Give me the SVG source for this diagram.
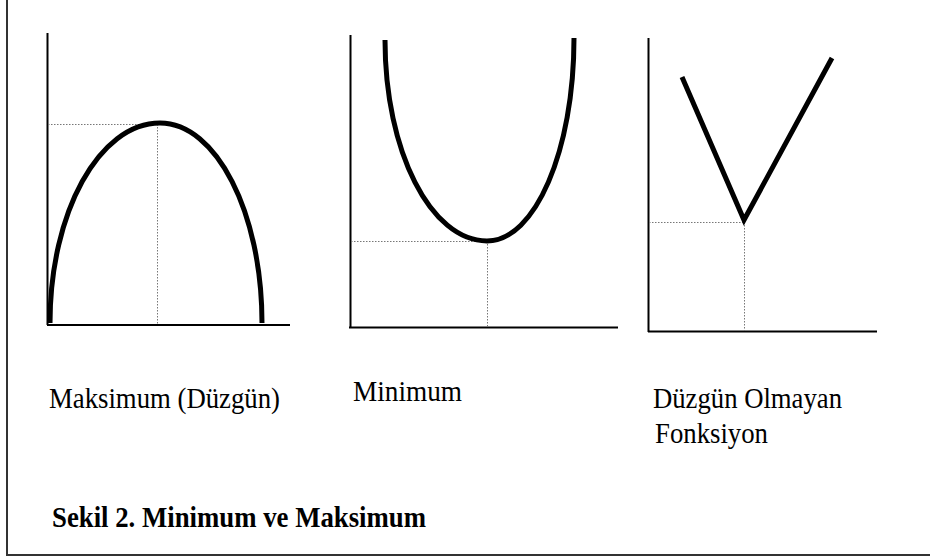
<svg xmlns="http://www.w3.org/2000/svg" width="930" height="558" viewBox="0 0 930 558">
<style>
.frame{fill:none;stroke:#333;stroke-width:2}
.axis{fill:none;stroke:#000;stroke-width:2}
.curve{fill:none;stroke:#000;stroke-width:5;stroke-linejoin:miter}
.dot{fill:none;stroke:#777;stroke-width:1;stroke-dasharray:1.5 1.5}
</style>
<rect width="930" height="558" fill="#fff"/>
<path class="frame" d="M7,0 V555 H930"/>
<g id="graph-max">
<path class="axis" d="M47.5,33 V325 M47,325 H290"/>
<path class="dot" d="M48,124.5 H160 M157.5,124 V325"/>
<path class="curve" d="M50,323 C50,212.5 99.2,123 160,123 C216.3,123 262,212.5 262,323"/>
<text x="49" y="408" font-family="Liberation Serif, Times New Roman, serif" font-size="30" textLength="231" lengthAdjust="spacingAndGlyphs">Maksimum (Düzgün)</text>
</g>
<g id="graph-min">
<path class="axis" d="M350.5,35 V328 M349,327.5 H618"/>
<path class="dot" d="M351,241.5 H487 M487.5,241 V327"/>
<path class="curve" d="M385,40 C385,151 430.7,241 487,241 C535,241 574,151 574,38"/>
<text x="353" y="401" font-family="Liberation Serif, Times New Roman, serif" font-size="30" textLength="109" lengthAdjust="spacingAndGlyphs">Minimum</text>
</g>
<g id="graph-nonsmooth">
<path class="axis" d="M648.5,38 V332 M648,331.5 H877"/>
<path class="dot" d="M649,222.5 H744 M744.5,222 V331"/>
<path class="curve" d="M682,77 L744,220 L832,58"/>
<text x="653" y="408" font-family="Liberation Serif, Times New Roman, serif" font-size="30" textLength="189" lengthAdjust="spacingAndGlyphs">Düzgün Olmayan</text>
<text x="655" y="443" font-family="Liberation Serif, Times New Roman, serif" font-size="30" textLength="113" lengthAdjust="spacingAndGlyphs">Fonksiyon</text>
</g>
<g id="caption">
<text x="52" y="527" font-family="Liberation Serif, Times New Roman, serif" font-size="29" font-weight="bold" textLength="374" lengthAdjust="spacingAndGlyphs">Sekil 2. Minimum ve Maksimum</text>
</g>
</svg>
